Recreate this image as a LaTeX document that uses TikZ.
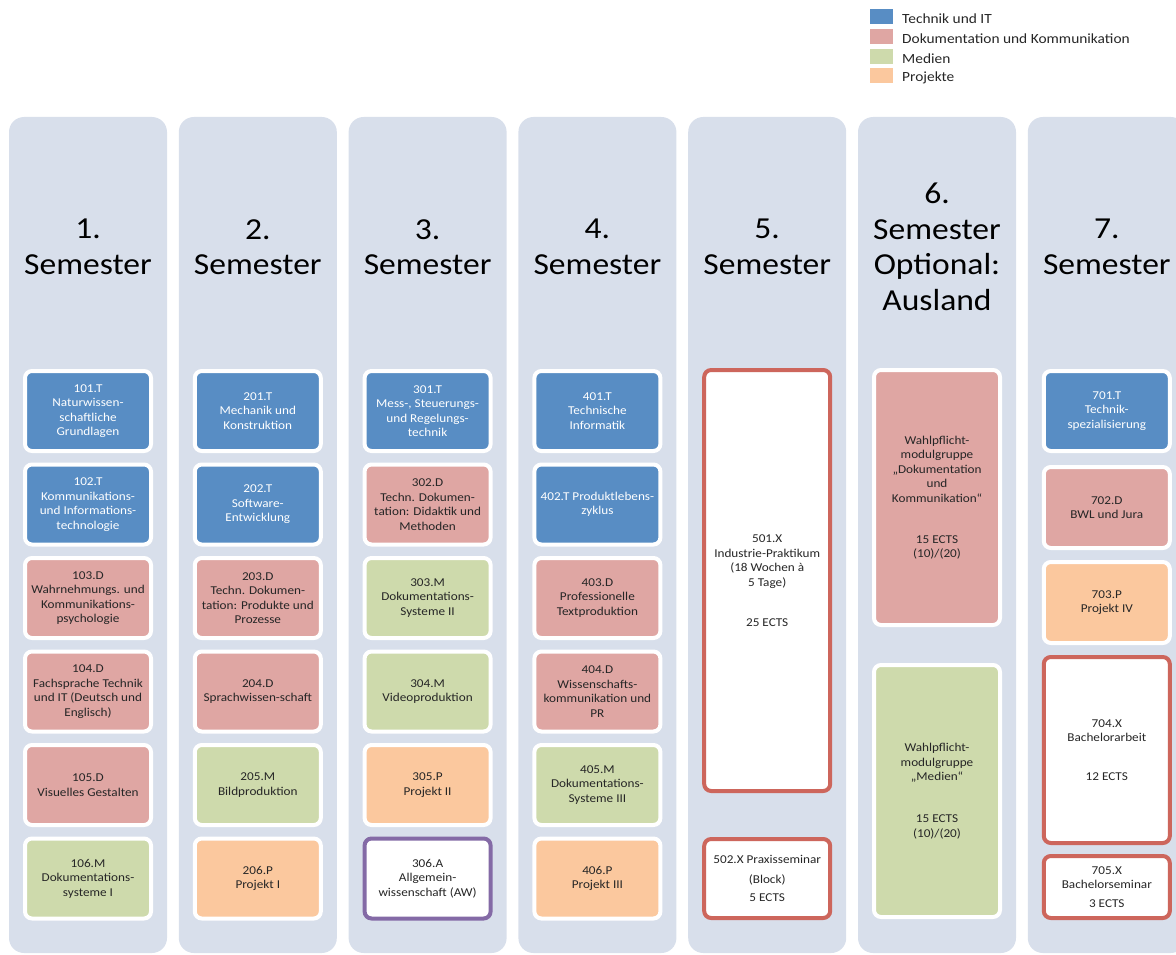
\documentclass[tikz,border=0pt]{standalone}
\usepackage{fontspec}
\setmainfont{Carlito}[FakeStretch=1.1]
\definecolor{colbg}{RGB}{216,223,235}
\definecolor{techblue}{RGB}{88,141,196}
\definecolor{dokpink}{RGB}{223,166,163}
\definecolor{medgreen}{RGB}{206,218,172}
\definecolor{projorange}{RGB}{251,200,158}
\definecolor{redring}{RGB}{205,102,92}
\definecolor{purplering}{RGB}{132,106,166}
\definecolor{txtdark}{RGB}{38,38,38}
\newcommand\mybf{\fontsize{12}{14.5}\selectfont}
\newcommand\myhf{\fontsize{30.5}{35.5}\selectfont}
\newcommand\mylf{\fontsize{14}{19}\selectfont}
\tikzset{
  colbox/.style={fill=colbg, rounded corners=15, minimum width=158, minimum height=836, inner sep=0},
  head/.style={align=center, font=\myhf, text=black, inner sep=0},
  mod/.style={rounded corners=7, minimum width=126, minimum height=80, inner sep=0,
    align=center, font=\mybf, line width=4, draw=white, text=txtdark},
  modT/.style={mod, fill=techblue, text=white},
  modD/.style={mod, fill=dokpink},
  modM/.style={mod, fill=medgreen},
  modP/.style={mod, fill=projorange},
  modX/.style={mod, fill=white, draw=redring},
  modA/.style={mod, fill=white, draw=purplering},
  legsq/.style={minimum width=23, minimum height=15, inner sep=0},
  legtxt/.style={anchor=west, font=\mylf, text=txtdark, inner sep=0},
}
\begin{document}
\begin{tikzpicture}[x=1pt,y=-1pt]
\useasboundingbox (0,0) rectangle (1176,955);
\clip (0,0) rectangle (1176,955);
% legend
\node[legsq, fill=techblue] (l1) at (881,17) {};
\node[legsq, fill=dokpink] (l2) at (881,37) {};
\node[legsq, fill=medgreen] (l3) at (881,57) {};
\node[legsq, fill=projorange] (l4) at (881,76) {};
\node[legtxt] (t1) at (902,19) {Technik und IT};
\node[legtxt] (t2) at (902,39) {Dokumentation und Kommunikation};
\node[legtxt] (t3) at (902,59) {Medien};
\node[legtxt] (t4) at (902,78) {Projekte};
% columns
\foreach \i/\cx in {1/88,2/257.8,3/427.6,4/597.4,5/767.2,6/937,7/1106.8}{
  \node[colbox] (c\i) at (\cx,535) {};
}
\node[head] (h1) at (88,247) {1.\\Semester};
\node[head] (h2) at (257.8,247) {2.\\Semester};
\node[head] (h3) at (427.6,247) {3.\\Semester};
\node[head] (h4) at (597.4,247) {4.\\Semester};
\node[head] (h5) at (767.2,247) {5.\\Semester};
\node[head] (h6) at (937,247) {6.\\Semester\\Optional:\\Ausland};
\node[head] (h7) at (1106.8,247) {7.\\Semester};
% semester 1
\node[modT] (m101) at (88,411) {101.T\\Naturwissen-\\schaftliche\\Grundlagen};
\node[modT] (m102) at (88,504.5) {102.T\\Kommunikations-\\und Informations-\\technologie};
\node[modD] (m103) at (88,598) {103.D\\Wahrnehmungs. und\\Kommunikations-\\psychologie};
\node[modD] (m104) at (88,691.5) {104.D\\Fachsprache Technik\\und IT (Deutsch und\\Englisch)};
\node[modD] (m105) at (88,785) {105.D\\Visuelles Gestalten};
\node[modM] (m106) at (88,878.5) {106.M\\Dokumentations-\\systeme I};
% semester 2
\node[modT] (m201) at (257.8,411) {201.T\\Mechanik und\\Konstruktion};
\node[modT] (m202) at (257.8,504.5) {202.T\\Software-\\Entwicklung};
\node[modD] (m203) at (257.8,598) {203.D\\Techn. Dokumen-\\tation: Produkte und\\Prozesse};
\node[modD] (m204) at (257.8,691.5) {204.D\\Sprachwissen-schaft};
\node[modM] (m205) at (257.8,785) {205.M\\Bildproduktion};
\node[modP] (m206) at (257.8,878.5) {206.P\\Projekt I};
% semester 3
\node[modT] (m301) at (427.6,411) {301.T\\Mess-, Steuerungs-\\und Regelungs-\\technik};
\node[modD] (m302) at (427.6,504.5) {302.D\\Techn. Dokumen-\\tation: Didaktik und\\Methoden};
\node[modM] (m303) at (427.6,598) {303.M\\Dokumentations-\\Systeme II};
\node[modM] (m304) at (427.6,691.5) {304.M\\Videoproduktion};
\node[modP] (m305) at (427.6,785) {305.P\\Projekt II};
\node[modA] (m306) at (427.6,878.5) {306.A\\Allgemein-\\wissenschaft (AW)};
% semester 4
\node[modT] (m401) at (597.4,411) {401.T\\Technische\\Informatik};
\node[modT] (m402) at (597.4,504.5) {402.T Produktlebens-\\zyklus};
\node[modD] (m403) at (597.4,598) {403.D\\Professionelle\\Textproduktion};
\node[modD] (m404) at (597.4,691.5) {404.D\\Wissenschafts-\\kommunikation und\\PR};
\node[modM] (m405) at (597.4,785) {405.M\\Dokumentations-\\Systeme III};
\node[modP] (m406) at (597.4,878.5) {406.P\\Projekt III};
% semester 5
\node[modX, minimum height=421] (m501) at (767.2,580.5) {501.X\\Industrie-Praktikum\\(18 Wochen à\\5 Tage)\\[25.5pt]25 ECTS};
\node[modX, minimum height=79] (m502) at (767.2,878.5) {502.X Praxisseminar\\[5pt](Block)\\[4pt]5 ECTS};
% semester 6
\node[modD, minimum height=255] (m6D) at (937,497.5) {Wahlpflicht-\\modulgruppe\\„Dokumentation\\und\\Kommunikation“\\[26.5pt]15 ECTS\\(10)/(20)};
\node[modM, minimum height=252] (m6M) at (937,791) {Wahlpflicht-\\modulgruppe\\„Medien“\\[27.5pt]15 ECTS\\(10)/(20)};
% semester 7
\node[modT] (m701) at (1106.8,411) {701.T\\Technik-\\spezialisierung};
\node[modD, minimum height=81] (m702) at (1106.8,507.5) {702.D\\BWL und Jura};
\node[modP, minimum height=81] (m703) at (1106.8,602.5) {703.P\\Projekt IV};
\node[modX, minimum height=186] (m704) at (1106.8,750) {704.X\\Bachelorarbeit\\[24.5pt]12 ECTS};
\node[modX, minimum height=62] (m705) at (1106.8,887) {705.X\\Bachelorseminar\\[4.5pt]3 ECTS};
\end{tikzpicture}
\end{document}
